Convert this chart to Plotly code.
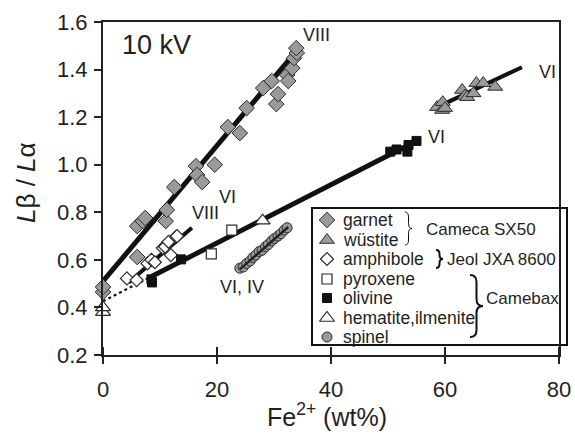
import plotly.graph_objects as go

# ---------------- data ----------------
garnet_x = [0, 0, 6.0, 6.0, 7.0, 7.4, 11.0, 11.2, 12.5, 16.3, 16.5, 17.4, 19.6, 21.9, 24.0, 25.2,
            28.1, 29.6, 30.4, 30.7, 32.3, 32.5, 33.2, 33.5, 34.0, 33.9]
garnet_y = [0.465, 0.486, 0.612, 0.742, 0.763, 0.776, 0.763, 0.81, 0.906, 0.994, 0.957, 0.927, 1.0,
            1.158, 1.133, 1.238, 1.322, 1.352, 1.255, 1.297, 1.377, 1.352, 1.406, 1.448, 1.47, 1.49]
wustite_x = [58.6, 59.5, 59.6, 60.0, 63.0, 63.5, 63.9, 65.0, 65.5, 66.7, 68.8]
wustite_y = [1.242, 1.23, 1.263, 1.238, 1.314, 1.29, 1.284, 1.30, 1.343, 1.343, 1.327]
amphibole_x = [4.2, 5.9, 7.8, 8.5, 9.1, 10.5, 10.9, 11.5, 11.9, 12.8, 13.0]
amphibole_y = [0.522, 0.515, 0.585, 0.60, 0.59, 0.65, 0.655, 0.676, 0.62, 0.697, 0.70]
pyroxene_x = [19.0, 22.6]
pyroxene_y = [0.625, 0.725]
olivine_x = [8.6, 8.5, 13.7, 50.4, 51.5, 53.4, 53.6, 55.0]
olivine_y = [0.505, 0.518, 0.602, 1.055, 1.064, 1.055, 1.083, 1.10]
hematite_x = [0, 0, 28.0]
hematite_y = [0.38, 0.40, 0.765]
spinel_x = [24.0, 24.6, 25.2, 25.8, 26.3, 26.8, 27.4, 27.9, 28.5, 29.0, 29.6, 30.1, 30.7, 31.2, 31.8, 32.3]
spinel_y = [0.565, 0.57, 0.585, 0.595, 0.61, 0.62, 0.635, 0.64, 0.655, 0.665, 0.68, 0.69, 0.70,
            0.71, 0.725, 0.735]

# trend lines (end points)
garnet_fit_x = [0, 34.0]
garnet_fit_y = [0.51, 1.48]
amphibole_fit_x = [4.5, 15.6]
amphibole_fit_y = [0.505, 0.735]
olivine_fit_x = [8.5, 55.0]
olivine_fit_y = [0.53, 1.10]
olivine_ext_x = [0, 8.5]
olivine_ext_y = [0.426, 0.53]
wustite_fit_x = [58.0, 73.5]
wustite_fit_y = [1.235, 1.41]
spinel_fit_x = [24.0, 32.5]
spinel_fit_y = [0.56, 0.738]

legend_labels = ["garnet", "wüstite", "amphibole", "pyroxene", "olivine", "hematite,ilmenite", "spinel"]
group_labels = ["Cameca SX50", "Jeol JXA 8600", "Camebax"]
site_labels = ["VIII", "VI", "VIII", "VI, IV", "VI", "VI"]
site_x = [37.5, 21.8, 17.9, 24.3, 58.5, 78.0]
site_y = [1.545, 0.864, 0.797, 0.486, 1.116, 1.39]

x_ticks = [0, 20, 40, 60, 80]
y_ticks = [0.2, 0.4, 0.6, 0.8, 1.0, 1.2, 1.4, 1.6]

# ---------------- styling ----------------
FONT = "Liberation Sans, Arial, sans-serif"
INK = "#231f20"
GRAY = "#9a9a9a"
EDGE = "#2b2b2b"

L, R, T, B = 103, 559, 22, 355   # plot area in pixels
X0, X1, Y0, Y1 = 0, 80, 0.2, 1.6


def px(x):
    return (x - L) / (R - L)


def py(y):
    return (B - y) / (B - T)


fig = go.Figure()

def line(xs, ys, w, dash="solid", color="#111111"):
    fig.add_trace(go.Scatter(x=xs, y=ys, mode="lines", showlegend=False, hoverinfo="skip",
                             line=dict(color=color, width=w, dash=dash)))

line(garnet_fit_x, garnet_fit_y, 5)
line(amphibole_fit_x, amphibole_fit_y, 4)
line(olivine_fit_x, olivine_fit_y, 5)
line(olivine_ext_x, olivine_ext_y, 2.2, dash="dot")
line(wustite_fit_x, wustite_fit_y, 4)

styles = {
    "garnet": dict(symbol="diamond", size=12, color=GRAY, line=dict(color=EDGE, width=1)),
    "wüstite": dict(symbol="triangle-up", size=13, color=GRAY, line=dict(color=EDGE, width=1)),
    "amphibole": dict(symbol="diamond", size=10, color="white", line=dict(color=EDGE, width=1.2)),
    "pyroxene": dict(symbol="square", size=10, color="white", line=dict(color=EDGE, width=1.2)),
    "olivine": dict(symbol="square", size=9, color="#111111", line=dict(color="#111111", width=1)),
    "hematite,ilmenite": dict(symbol="triangle-up", size=13, color="white", line=dict(color=EDGE, width=1.2)),
    "spinel": dict(symbol="circle", size=10, color=GRAY, line=dict(color=EDGE, width=1)),
}
series = [
    ("garnet", garnet_x, garnet_y),
    ("wüstite", wustite_x, wustite_y),
    ("amphibole", amphibole_x, amphibole_y),
    ("pyroxene", pyroxene_x, pyroxene_y),
    ("olivine", olivine_x, olivine_y),
    ("hematite,ilmenite", hematite_x, hematite_y),
    ("spinel", spinel_x, spinel_y),
]
for name, xs, ys in series:
    fig.add_trace(go.Scatter(x=xs, y=ys, mode="markers", name=name, showlegend=False,
                             marker=styles[name], cliponaxis=False))

line(spinel_fit_x, spinel_fit_y, 2.5, color="#222222")

# ---------------- hand-made legend (pixel overlay axis) ----------------
row_y = [220, 240, 259, 279, 298, 318, 337]
for name, yy in zip(legend_labels, row_y):
    st = dict(styles[name])
    fig.add_trace(go.Scatter(x=[327], y=[yy], mode="markers", showlegend=False, hoverinfo="skip",
                             marker=st, xaxis="x2", yaxis="y2", cliponaxis=False))

shapes = [dict(type="rect", xref="paper", yref="paper", x0=px(312), x1=px(567), y0=py(208), y1=py(345),
               line=dict(color="#111111", width=2), fillcolor="white", layer="below")]

# x ticks cross the axis: add the inner half
for t in x_ticks:
    shapes.append(dict(type="line", xref="x", yref="paper", x0=t, x1=t, y0=0, y1=8 / (B - T),
                       line=dict(color="#222222", width=2)))


def brace(x, y0, y1, w, r, lw):
    ym = (y0 + y1) / 2
    h = x + w / 2
    pts = [("M", [(x, y0)]), ("Q", [(h, y0), (h, y0 + r)]), ("L", [(h, ym - r)]),
           ("Q", [(h, ym), (x + w, ym)]), ("Q", [(h, ym), (h, ym + r)]), ("L", [(h, y1 - r)]),
           ("Q", [(h, y1), (x, y1)])]
    s = ""
    for cmd, ps in pts:
        s += cmd + " " + " ".join(f"{px(a):.5f},{py(b):.5f}" for a, b in ps) + " "
    return dict(type="path", xref="paper", yref="paper", path=s.strip(),
                line=dict(color="#111111", width=lw))

shapes.append(brace(405, 212, 245, 7, 5, 1))
shapes.append(brace(436, 250, 268, 7, 4, 2))
shapes.append(brace(470, 275, 337, 13, 7, 2))

annotations = []
for name, yy in zip(legend_labels, row_y):
    annotations.append(dict(xref="paper", yref="paper", x=px(341), y=py(yy), text=name,
                            showarrow=False, xanchor="left", yanchor="middle",
                            font=dict(family=FONT, size=17.5, color=INK)))
for txt, xx, yy in zip(group_labels, [424, 445, 484], [229, 259, 298]):
    annotations.append(dict(xref="paper", yref="paper", x=px(xx), y=py(yy), text=txt,
                            showarrow=False, xanchor="left", yanchor="middle",
                            font=dict(family=FONT, size=17, color=INK)))
for txt, xx, yy in zip(site_labels, site_x, site_y):
    annotations.append(dict(xref="paper", yref="paper", x=(xx - X0) / (X1 - X0), y=(yy - Y0) / (Y1 - Y0),
                            text=txt, showarrow=False, xanchor="center", yanchor="middle",
                            font=dict(family=FONT, size=18, color=INK)))
annotations.append(dict(xref="paper", yref="paper", x=px(156), y=py(45), text="10 kV",
                        showarrow=False, xanchor="center", yanchor="middle",
                        font=dict(family=FONT, size=27, color=INK)))
# axis titles
annotations.append(dict(xref="paper", yref="paper", x=px(327), y=py(415), text="Fe<sup>2+</sup> (wt%)",
                        showarrow=False, xanchor="center", yanchor="middle",
                        font=dict(family=FONT, size=25, color=INK)))
annotations.append(dict(xref="paper", yref="paper", x=px(26), y=py(183), text="<i>L</i>β / <i>L</i>α",
                        textangle=-90, showarrow=False, xanchor="center", yanchor="middle",
                        font=dict(family=FONT, size=26, color=INK)))

axis_common = dict(showline=True, linewidth=2, linecolor="#222222", mirror=True, showgrid=False,
                   zeroline=False, ticks="outside", ticklen=7, tickwidth=2, tickcolor="#222222",
                   automargin=False, tickfont=dict(family=FONT, size=22, color=INK))

fig.update_layout(
    width=575, height=439,
    margin=dict(l=L, r=575 - R, t=T, b=439 - B, autoexpand=False),
    paper_bgcolor="white", plot_bgcolor="white",
    showlegend=False,
    xaxis=dict(range=[X0, X1], tickvals=x_ticks, ticklabelstandoff=7, **axis_common),
    yaxis=dict(range=[Y0, Y1], tickvals=y_ticks, tickformat=".1f", ticklabelstandoff=2, **axis_common),
    xaxis2=dict(overlaying="x", range=[L, R], visible=False, fixedrange=True, automargin=False),
    yaxis2=dict(overlaying="y", range=[B, T], visible=False, fixedrange=True, automargin=False),
    shapes=shapes,
    annotations=annotations,
)

fig.write_html("out.html")
